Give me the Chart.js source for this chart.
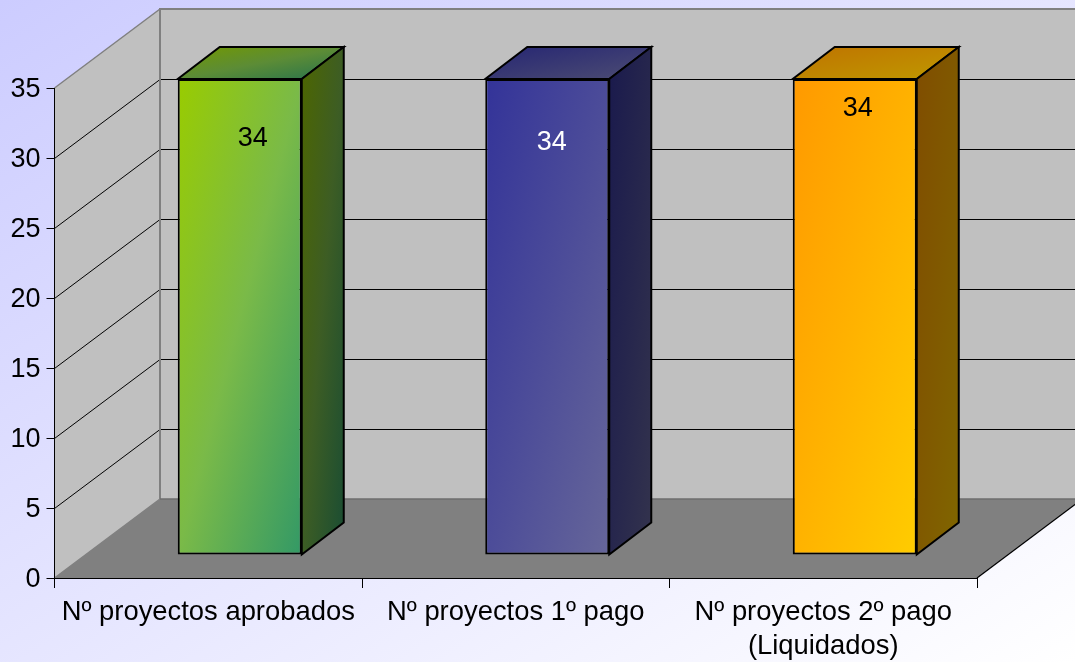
<!DOCTYPE html>
<html>
<head>
<meta charset="utf-8">
<title>Proyectos</title>
<script src="https://cdn.jsdelivr.net/npm/chart.js@4/dist/chart.umd.min.js"></script>
<style>
    html, body { margin: 0; padding: 0; background: #fff; }
    canvas { display: block; }
</style>
</head>
<body>
<canvas id="chart" width="1075" height="662"></canvas>
<script>
// DATA
const categories = [
    'Nº proyectos aprobados',
    'Nº proyectos 1º pago',
    ['Nº proyectos 2º pago', '(Liquidados)']
];
const projectCounts = [34, 34, 34];
const yTicks = [0, 5, 10, 15, 20, 25, 30, 35];

// STYLE
const gradientStart = [[153, 204, 0], [51, 51, 153], [255, 153, 0]];
const gradientMid = [[122, 186, 72], [76, 76, 153], [255, 178, 0]];
const gradientEnd = [[51, 153, 102], [102, 102, 153], [255, 204, 0]];
const labelColors = ['#000', '#fff', '#000'];
const labelShift = [[13, 60], [4.5, 64], [3, 30]]; // from the top centre of each bar

// 3D projection, in pixels
const wallDepth = { x: 105.5, y: -79 };
const barOffset = { x: 31.5, y: -23 };
const barDepth = { x: 42, y: -32 };
const FONT = '"Liberation Sans", Arial, sans-serif';

function rgb(c, k) {
    return `rgb(${Math.round(c[0] * k)},${Math.round(c[1] * k)},${Math.round(c[2] * k)})`;
}

// Diagonal gradient with the two other corners of the box at the midpoint
function diagonal(ctx, x, y, w, h, from, to, mid) {
    const f = 2 * w * h / (w * w + h * h);
    const g = ctx.createLinearGradient(x, y, x + h * f, y + w * f);
    g.addColorStop(0, from);
    if (mid) g.addColorStop(0.5, mid);
    g.addColorStop(1, to);
    return g;
}

function poly(ctx, pts, fill, stroke, lineWidth) {
    ctx.beginPath();
    pts.forEach((p, i) => i ? ctx.lineTo(p[0], p[1]) : ctx.moveTo(p[0], p[1]));
    ctx.closePath();
    if (fill) { ctx.fillStyle = fill; ctx.fill(); }
    if (stroke) { ctx.strokeStyle = stroke; ctx.lineWidth = lineWidth; ctx.lineJoin = 'miter'; ctx.stroke(); }
}

function line(ctx, x1, y1, x2, y2, color, width) {
    ctx.beginPath();
    ctx.moveTo(x1, y1);
    ctx.lineTo(x2, y2);
    ctx.strokeStyle = color;
    ctx.lineWidth = width;
    ctx.stroke();
}

// Background, walls, floor and wall grid lines
const box3d = {
    id: 'box3d',
    beforeDraw(chart) {
        const ctx = chart.ctx;
        const area = chart.chartArea;
        const yScale = chart.scales.y;
        const dx = wallDepth.x, dy = wallDepth.y;
        const L = area.left, R = area.right, T = area.top, B = area.bottom;

        ctx.save();
        ctx.fillStyle = diagonal(ctx, 0, 0, chart.width, chart.height, '#ccccff', '#ffffff');
        ctx.fillRect(0, 0, chart.width, chart.height);

        // back wall and left wall
        poly(ctx, [[L + dx, T + dy], [R + dx, T + dy], [R + dx, B + dy], [L + dx, B + dy]], '#c0c0c0');
        poly(ctx, [[L, T], [L + dx, T + dy], [L + dx, B + dy], [L, B]], '#c0c0c0');
        // floor
        poly(ctx, [[L, B], [R, B], [R + dx, B + dy], [L + dx, B + dy]], '#808080');

        yTicks.forEach(v => {
            if (v === 0 || v === 35) return;
            const y = Math.round(yScale.getPixelForValue(v));
            ctx.lineJoin = 'round';
            line(ctx, L, y + 0.5, L + dx, y + dy + 0.5, '#000', 1);
            line(ctx, L + dx, y + dy + 0.5, R + dx, y + dy + 0.5, '#000', 1);
        });

        // wall outlines
        line(ctx, L + dx, T + dy, R + dx, T + dy, '#808080', 2);
        line(ctx, L + dx, T + dy - 1, L + dx, B + dy, '#808080', 2);
        line(ctx, L, T, L + dx, T + dy, '#808080', 1.5);
        line(ctx, L, B, L + dx, B + dy, '#808080', 1.5);
        line(ctx, L + dx, B + dy, R + dx, B + dy, '#6e6e6e', 1.5);
        line(ctx, R, B, R + dx, B + dy, '#000', 1.2);
        ctx.restore();
    },
    beforeDatasetDraw(chart, args) {
        const ctx = chart.ctx;
        const bars = chart.getDatasetMeta(args.index).data;
        ctx.save();
        ctx.translate(barOffset.x, barOffset.y);
        bars.forEach((bar, i) => {
            const p = bar.getProps(['x', 'y', 'base', 'width'], true);
            const l = p.x - p.width / 2, r = p.x + p.width / 2;
            const c1 = gradientStart[i], c2 = gradientEnd[i], cm = gradientMid[i];
            const bx = barDepth.x, by = barDepth.y;

            // front face goes through the bar element itself
            bar.options = Object.assign({}, bar.options, {
                backgroundColor: diagonal(ctx, l, p.y, p.width, p.base - p.y, rgb(c1, 1), rgb(c2, 1), rgb(cm, 1))
            });

            // top and side faces
            poly(ctx, [[l, p.y], [r, p.y], [r + bx, p.y + by], [l + bx, p.y + by]],
                diagonal(ctx, l, p.y + by, p.width + bx, -by, rgb(c1, 0.75), rgb(c2, 0.75), rgb(cm, 0.75)), '#000', 2);
            poly(ctx, [[r, p.y], [r + bx, p.y + by], [r + bx, p.base + by], [r, p.base]],
                diagonal(ctx, r, p.y + by, bx, p.base - p.y - by, rgb(c1, 0.5), rgb(c2, 0.5), rgb(cm, 0.5)), '#000', 2);
        });
        ctx.restore();
        // keep the shift on for the bars
        ctx.save();
        ctx.translate(barOffset.x, barOffset.y);
    },
    afterDatasetDraw(chart, args) {
        const ctx = chart.ctx;
        ctx.restore();

        // value labels sit on the front face
        const bars = chart.getDatasetMeta(args.index).data;
        const values = chart.data.datasets[args.index].data;
        ctx.save();
        ctx.font = '27px ' + FONT;
        ctx.textAlign = 'center';
        ctx.textBaseline = 'middle';
        bars.forEach((bar, i) => {
            ctx.fillStyle = labelColors[i];
            ctx.fillText(values[i], bar.x + barOffset.x + labelShift[i][0], bar.y + barOffset.y + labelShift[i][1]);
        });
        ctx.restore();
    }
};

new Chart(document.getElementById('chart'), {
    type: 'bar',
    data: {
        labels: categories,
        datasets: [{
            data: projectCounts,
            backgroundColor: '#999',
            borderColor: '#000',
            borderWidth: 2,
            borderSkipped: false,
            categoryPercentage: 1,
            barPercentage: 0.4033,
            clip: false
        }]
    },
    options: {
        responsive: false,
        animation: false,
        layout: { padding: { top: 88, right: 98, left: 0, bottom: 0 } },
        plugins: {
            legend: { display: false },
            tooltip: { enabled: false }
        },
        scales: {
            x: {
                offset: true,
                afterFit(scale) { scale.height = 84; },
                border: { display: true, color: '#000', width: 1 },
                grid: { display: true, drawOnChartArea: false, color: '#000', tickLength: 10 },
                ticks: {
                    color: '#000',
                    padding: 7,
                    maxRotation: 0,
                    autoSkip: false,
                    font: { family: FONT, size: 27.4, lineHeight: 1.25 }
                }
            },
            y: {
                min: 0,
                max: 35,
                afterFit(scale) { scale.width = 54.5; },
                afterBuildTicks(scale) { scale.ticks = yTicks.map(v => ({ value: v })); },
                border: { display: true, color: '#000', width: 1 },
                grid: { display: true, drawOnChartArea: false, color: '#000', tickLength: 8 },
                ticks: {
                    color: '#000',
                    padding: 6,
                    labelOffset: 2,
                    font: { family: FONT, size: 27 }
                }
            }
        }
    },
    plugins: [box3d]
});
</script>
</body>
</html>
